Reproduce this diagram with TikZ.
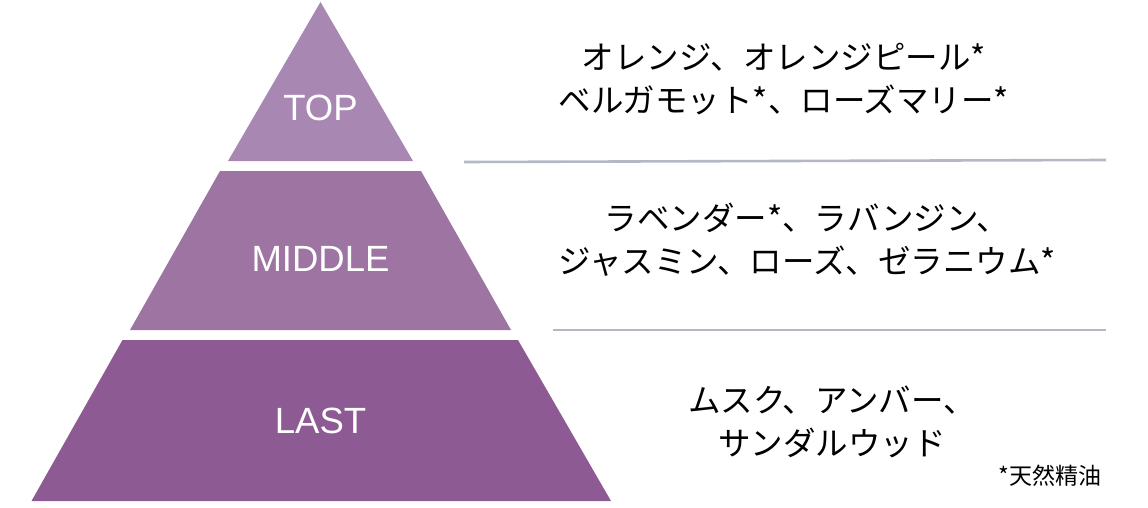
\documentclass[tikz,border=0pt]{standalone}
\usepackage{fontspec}
\setmainfont{Liberation Sans}
\newfontfamily\jpfont{Noto Sans CJK JP}
\definecolor{bandtop}{RGB}{168,136,178}
\definecolor{bandmid}{RGB}{157,116,162}
\definecolor{bandlast}{RGB}{142,90,147}
\definecolor{sepline}{RGB}{180,184,196}
\tikzset{
  tier/.style={font=\fontsize{36.5}{40}\selectfont,text=white},
  notes/.style={font=\jpfont\fontsize{32.5}{43}\selectfont,align=center,text=black},
  foot/.style={font=\jpfont\fontsize{23}{26}\selectfont,text=black},
  sepl/.style={draw=sepline,line width=2.6pt},
}

\begin{document}
\begin{tikzpicture}[x=1pt,y=-1pt]
  \useasboundingbox (0,0) rectangle (1148,508);
  % pyramid bands
  \fill[bandtop] (320.5,2) -- (413,161) -- (228,161) -- cycle;
  \fill[bandmid] (220,171) -- (421,171) -- (511,330) -- (130,330) -- cycle;
  \fill[bandlast] (122.5,340) -- (518,340) -- (611,501) -- (31.5,501) -- cycle;
  \node[tier] (top) at (320.5,108) {TOP};
  \node[tier] (middle) at (320.5,259) {MIDDLE};
  \node[tier] (last) at (320.5,421) {LAST};
  % notes
  \node[notes] (topnotes) at (784,79) {オレンジ、オレンジピール*\\ベルガモット*、ローズマリー*};
  \node[notes] (midnotes) at (807,240) {ラベンダー*、ラバンジン、\\ジャスミン、ローズ、ゼラニウム*};
  \node[notes] (lastnotes) at (832,422) {ムスク、アンバー、\\サンダルウッド};
  \node[foot,anchor=east] (footnote) at (1105,476) {*天然精油};
  % separators
  \coordinate (s1a) at (464,162);
  \coordinate (s1b) at (1106,160);
  \coordinate (s2a) at (553,330);
  \coordinate (s2b) at (1106,330);
  \draw[sepl] (s1a) -- (s1b);
  \draw[sepl] (s2a) -- (s2b);
\end{tikzpicture}
\end{document}
